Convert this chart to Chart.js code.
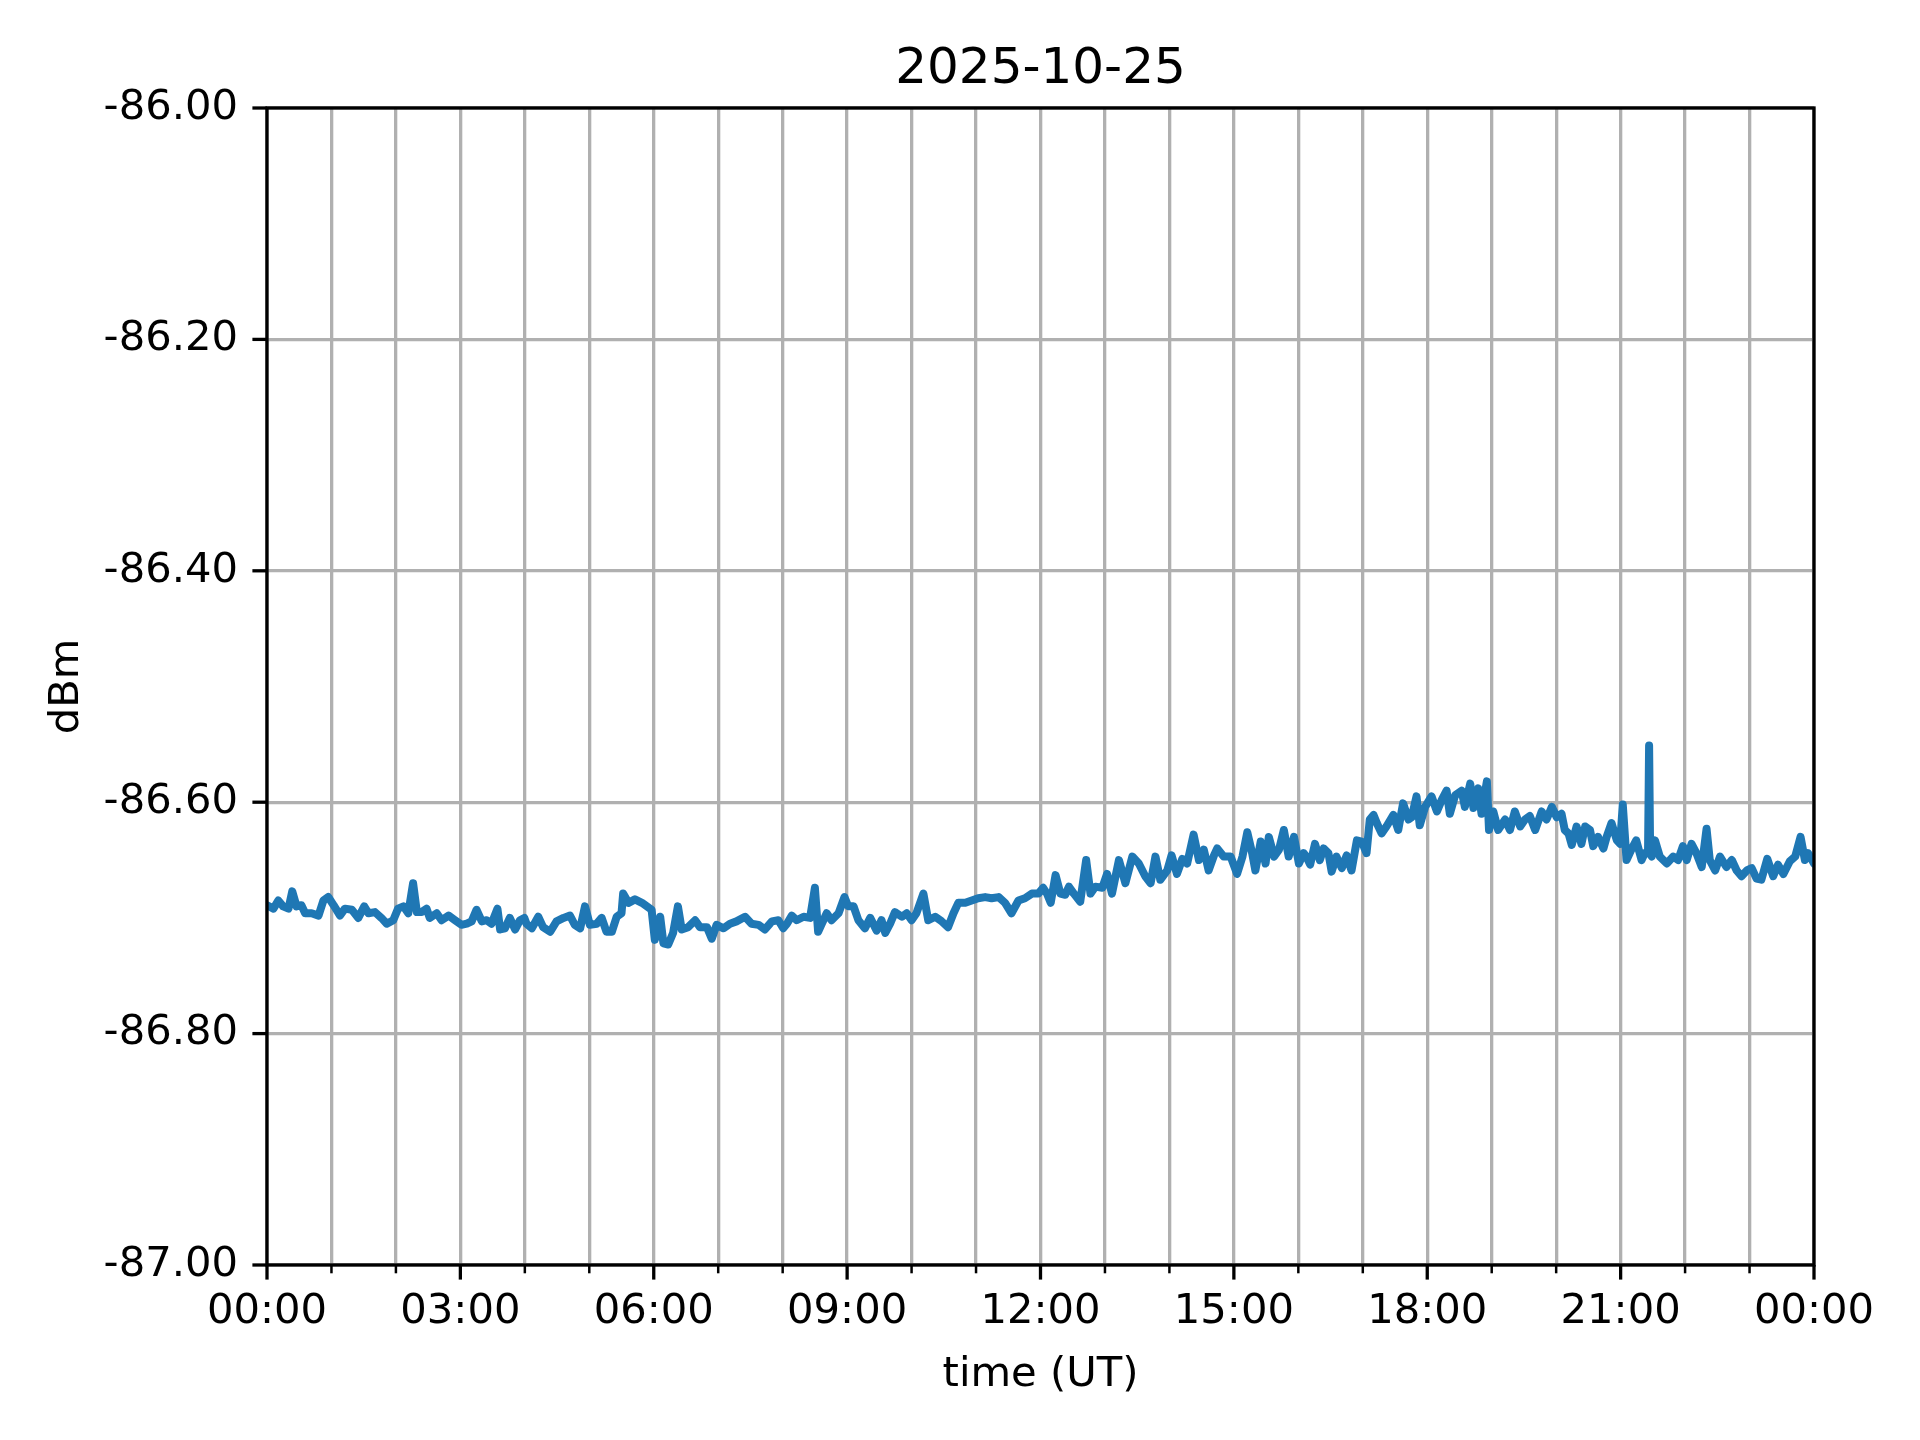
<!DOCTYPE html>
<html>
<head>
<meta charset="utf-8">
<title>2025-10-25</title>
<script src="https://cdn.jsdelivr.net/npm/chart.js@4.4.1/dist/chart.umd.min.js"></script>
<style>
  html, body { margin: 0; padding: 0; background: #fff; }
  #wrap { width: 1920px; height: 1440px; }
</style>
</head>
<body>
<div id="wrap"><canvas id="chart" width="1920" height="1440"></canvas></div>
<script>
const chartTitle = '2025-10-25';

// minutes since 00:00 UT
const timeMin = [
  0, 6, 10.5, 15, 20, 23.5, 27.5, 32, 35.5, 41.5, 48, 52.5, 57, 62, 68, 72.5, 79, 85, 90.5, 94.5,
  100.5, 106.5, 111.5, 117.5, 122, 127, 131.5, 136, 139.5, 144, 148.5, 151.5, 158, 162.5, 169, 175, 181, 186, 190.5, 195,
  200, 204.5, 209, 214.5, 217, 221.5, 226, 231, 235.5, 239.5,
  241.5, 246.5, 252.5, 257, 263.5, 269.5, 276, 282, 286.5, 291.5, 296, 300.5, 307, 311.5, 316, 321, 325.5, 330, 331.5, 336.5,
  342.5, 349, 353.5, 358, 361, 366, 369, 373.5, 378, 382.5, 386, 392, 398.5, 403, 409.5, 414, 418.5, 425, 431, 437,
  445, 451, 457.5, 463.5, 470, 476, 480.5,
  484, 488.5, 493, 499.5, 505.5, 510, 513, 516.5, 521, 525.5, 532, 537.5, 541, 546, 550.5, 556.5, 561.5, 567.5, 572, 575.5,
  580, 584.5, 591, 595.5, 600, 604.5, 611, 615.5, 622, 628, 634, 639, 643.5, 650, 656, 662, 668.5, 674.5, 681, 687,
  693, 699.5, 705.5, 712, 718, 722.5,
  726, 729.5, 734, 738.5, 743, 746.5, 751, 757, 762.5, 766.5, 771, 777.5, 782, 786.5, 793, 799, 805.5, 811.5, 817.5, 822.5,
  827, 831.5, 838, 842, 847, 852, 856.5, 862.5, 867.5, 872, 876.5, 881.5, 884.5, 890.5, 897, 903, 908, 912.5, 917, 920,
  925, 929.5, 932.5, 937.5, 942, 946.5, 951, 956, 960.5, 965,
  967.5, 971, 975.5, 980, 983.5, 988, 991, 995.5, 1000.5, 1005, 1009.5, 1014.5, 1019, 1023.5, 1026.5, 1030, 1033, 1037.5, 1042, 1048.5,
  1053, 1057.5, 1062.5, 1065.5, 1070, 1073, 1078, 1084, 1089, 1093.5, 1098, 1101, 1106, 1112, 1115, 1120, 1123, 1127.5, 1130.5, 1135.5,
  1137.5, 1141.5, 1146, 1152.5, 1157, 1161.5, 1166.5, 1171, 1175.5, 1180.5, 1186.5, 1191, 1196, 1200.5, 1205,
  1208, 1211.5, 1214.5, 1219, 1223.5, 1227, 1231.5, 1234.5, 1239, 1244, 1247, 1251.5, 1256.5, 1259.5, 1262, 1265.5, 1270, 1274.5, 1279.5, 1282.5,
  1285.5, 1286.5, 1287.5, 1289, 1292, 1296.5, 1303, 1309, 1313.5, 1318, 1321.5, 1326, 1330.5, 1335.5, 1340, 1343, 1348, 1352.5, 1358.5, 1363.5,
  1368, 1372.5, 1377.5, 1382, 1386.5, 1391, 1396.5, 1402, 1406.5, 1411.5, 1417.5, 1422.5, 1427.5, 1431.5, 1434.5, 1440
];

const dbm = [
  -86.689, -86.692, -86.685, -86.690, -86.692, -86.677, -86.690, -86.689, -86.696, -86.696, -86.698, -86.685, -86.682, -86.689, -86.698, -86.692, -86.693, -86.700, -86.690, -86.696,
  -86.695, -86.700, -86.705, -86.702, -86.692, -86.690, -86.696, -86.670, -86.695, -86.695, -86.692, -86.700, -86.696, -86.702, -86.698, -86.702, -86.706, -86.705, -86.703, -86.693,
  -86.703, -86.702, -86.705, -86.692, -86.710, -86.709, -86.700, -86.710, -86.702, -86.700,
  -86.705, -86.709, -86.699, -86.708, -86.712, -86.703, -86.700, -86.698, -86.706, -86.709, -86.690, -86.706, -86.705, -86.700, -86.712, -86.712, -86.699, -86.696, -86.679, -86.687,
  -86.684, -86.687, -86.690, -86.693, -86.719, -86.699, -86.722, -86.723, -86.713, -86.690, -86.710, -86.708, -86.702, -86.708, -86.708, -86.718, -86.706, -86.709, -86.705, -86.703,
  -86.699, -86.705, -86.706, -86.710, -86.703, -86.702, -86.709,
  -86.705, -86.698, -86.702, -86.699, -86.700, -86.674, -86.712, -86.705, -86.696, -86.702, -86.696, -86.682, -86.690, -86.690, -86.702, -86.709, -86.700, -86.711, -86.702, -86.713,
  -86.705, -86.695, -86.699, -86.696, -86.702, -86.696, -86.679, -86.702, -86.699, -86.703, -86.708, -86.696, -86.687, -86.687, -86.685, -86.683, -86.682, -86.683, -86.682, -86.687,
  -86.696, -86.685, -86.683, -86.679, -86.679, -86.674,
  -86.679, -86.687, -86.663, -86.679, -86.680, -86.673, -86.679, -86.686, -86.650, -86.679, -86.673, -86.674, -86.662, -86.679, -86.650, -86.670, -86.647, -86.653, -86.664, -86.670,
  -86.647, -86.667, -86.659, -86.646, -86.662, -86.649, -86.653, -86.628, -86.650, -86.641, -86.659, -86.646, -86.640, -86.647, -86.647, -86.662, -86.647, -86.626, -86.644, -86.659,
  -86.634, -86.653, -86.630, -86.647, -86.641, -86.624, -86.647, -86.630, -86.653, -86.644,
  -86.647, -86.654, -86.636, -86.650, -86.640, -86.644, -86.660, -86.647, -86.657, -86.646, -86.659, -86.633, -86.634, -86.644, -86.615, -86.611, -86.618, -86.627, -86.621, -86.611,
  -86.624, -86.601, -86.615, -86.613, -86.595, -86.620, -86.604, -86.595, -86.608, -86.598, -86.590, -86.610, -86.594, -86.590, -86.604, -86.584, -86.605, -86.588, -86.610, -86.582,
  -86.624, -86.608, -86.624, -86.615, -86.624, -86.608, -86.621, -86.615, -86.612, -86.624, -86.608, -86.615, -86.604, -86.613, -86.610,
  -86.624, -86.627, -86.637, -86.621, -86.636, -86.621, -86.624, -86.638, -86.630, -86.640, -86.630, -86.618, -86.633, -86.636, -86.602, -86.650, -86.641, -86.633, -86.650, -86.644,
  -86.644, -86.551, -86.645, -86.647, -86.633, -86.647, -86.653, -86.647, -86.650, -86.638, -86.650, -86.636, -86.644, -86.656, -86.623, -86.650, -86.659, -86.647, -86.656, -86.650,
  -86.659, -86.664, -86.659, -86.657, -86.666, -86.667, -86.649, -86.664, -86.654, -86.662, -86.651, -86.647, -86.630, -86.650, -86.644, -86.653
];

const xTickLabels = ['00:00', '03:00', '06:00', '09:00', '12:00', '15:00', '18:00', '21:00', '00:00'];

const FONT = 'DejaVu Sans';
Chart.defaults.color = '#000';
Chart.defaults.font.family = FONT;

const points = timeMin.map((t, i) => ({ x: t, y: dbm[i] }));

// matplotlib style frame plus major/minor tick marks
const frameAndTicks = {
  id: 'frameAndTicks',
  afterDraw(chart) {
    const { ctx, chartArea: a, scales: { x, y } } = chart;
    ctx.save();
    ctx.strokeStyle = '#000';
    for (let m = 0; m <= 1440; m += 60) {
      const px = x.getPixelForValue(m);
      const major = m % 180 === 0;
      ctx.lineWidth = major ? 3.3 : 2.5;
      ctx.beginPath();
      ctx.moveTo(px, a.bottom);
      ctx.lineTo(px, a.bottom + (major ? 14.6 : 8.3));
      ctx.stroke();
    }
    ctx.lineWidth = 3.3;
    y.ticks.forEach(t => {
      const py = y.getPixelForValue(t.value);
      ctx.beginPath();
      ctx.moveTo(a.left, py);
      ctx.lineTo(a.left - 14.6, py);
      ctx.stroke();
    });
    ctx.strokeRect(a.left, a.top, a.right - a.left, a.bottom - a.top);
    ctx.restore();
  }
};

const ctx = document.getElementById('chart').getContext('2d');
new Chart(ctx, {
  type: 'line',
  data: {
    datasets: [{
      data: points,
      borderColor: '#1f77b4',
      borderWidth: 8,
      pointRadius: 0,
      tension: 0,
      borderJoinStyle: 'round',
      borderCapStyle: 'round',
      fill: false
    }]
  },
  options: {
    responsive: false,
    animation: false,
    devicePixelRatio: 1,
    layout: { padding: { left: 0, right: 106, top: 0, bottom: 0 } },
    plugins: {
      legend: { display: false },
      tooltip: { enabled: false },
      title: {
        display: true,
        fullSize: false,
        text: chartTitle,
        color: '#000',
        font: { family: FONT, size: 50, weight: 'normal' },
        padding: { top: 40, bottom: 8 }
      }
    },
    scales: {
      x: {
        type: 'linear',
        min: 0,
        max: 1440,
        afterFit: s => { s.height = 175; },
        ticks: {
          stepSize: 60,
          autoSkip: false,
          maxRotation: 0,
          padding: 22,
          color: '#000',
          font: { family: FONT, size: 41.7 },
          callback: v => (v % 180 === 0 ? xTickLabels[v / 180] : '')
        },
        grid: { color: '#b0b0b0', lineWidth: 3.3, drawTicks: false },
        border: { display: false },
        title: {
          display: true,
          text: 'time (UT)',
          color: '#000',
          font: { family: FONT, size: 41.7 },
          padding: { top: 0, bottom: 40 }
        }
      },
      y: {
        min: -87,
        max: -86,
        afterFit: s => { s.width = 267; },
        ticks: {
          stepSize: 0.2,
          padding: 29,
          color: '#000',
          font: { family: FONT, size: 41.7 },
          callback: v => v.toFixed(2)
        },
        grid: { color: '#b0b0b0', lineWidth: 3.3, drawTicks: false },
        border: { display: false },
        title: {
          display: true,
          text: 'dBm',
          color: '#000',
          font: { family: FONT, size: 41.7 },
          padding: { top: 42, bottom: 0 }
        }
      }
    }
  },
  plugins: [frameAndTicks]
});
</script>
</body>
</html>
